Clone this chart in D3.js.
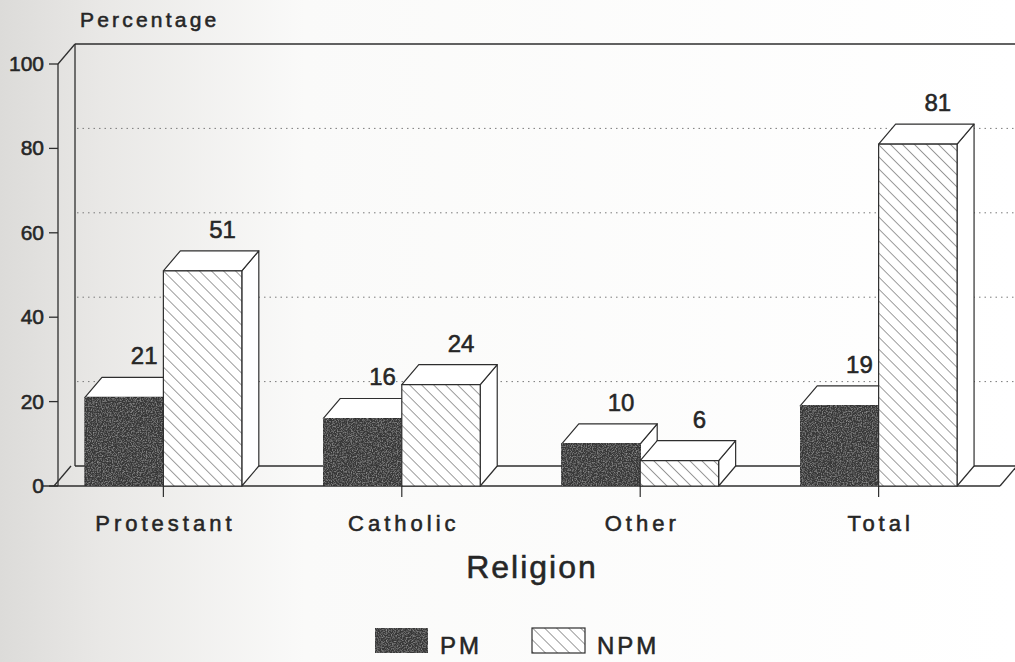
<!DOCTYPE html>
<html>
<head>
<meta charset="utf-8">
<script src="https://cdn.jsdelivr.net/npm/d3@7"></script>
<style>
  html, body { margin: 0; padding: 0; background: #fff; }
  svg { display: block; }
  text { font-family: "Liberation Sans", Arial, Helvetica, sans-serif; fill: #262626; stroke: #262626; stroke-width: 0.55px; }
</style>
</head>
<body>
<svg id="chart" width="1015" height="662"></svg>
<script>
// ---- data ----
const categories = ["Protestant", "Catholic", "Other", "Total"];
const seriesNames = ["PM", "NPM"];
const pmValues = [21, 16, 10, 19];
const npmValues = [51, 24, 6, 81];
const yTickValues = [0, 20, 40, 60, 80, 100];
const gridValues = [20, 40, 60, 80];
const yAxisTitle = "Percentage";
const xAxisTitle = "Religion";

// ---- layout ----
const W = 1015, H = 662;
const DX = 17, DY = -20;       // 3D depth offset
const floorRight = 1000;
const svg = d3.select("#chart");

const y = d3.scaleLinear().domain([0, 100]).range([486, 64]);
const x0 = d3.scaleBand().domain(categories).range([58, 984])
  .paddingInner(0.342).paddingOuter(0.113);
const x1 = d3.scaleBand().domain(seriesNames).range([0, x0.bandwidth()]);

const ink = "#2e2e2e";
const defs = svg.append("defs");

// background: scanned paper shading
const bg = defs.append("linearGradient").attr("id", "paper")
  .attr("x1", "0").attr("x2", "1").attr("y1", "0").attr("y2", "0");
bg.append("stop").attr("offset", "0").attr("stop-color", "#dcdbd9");
bg.append("stop").attr("offset", "0.1").attr("stop-color", "#e9e8e6");
bg.append("stop").attr("offset", "0.3").attr("stop-color", "#fafaf9");
bg.append("stop").attr("offset", "1").attr("stop-color", "#ffffff");
svg.append("rect").attr("width", W).attr("height", H).attr("fill", "url(#paper)");

// hatch pattern for NPM
const hatch = defs.append("pattern").attr("id", "hatch")
  .attr("patternUnits", "userSpaceOnUse").attr("width", 8.5).attr("height", 8.5)
  .attr("patternTransform", "rotate(-45)");
hatch.append("rect").attr("width", 8.5).attr("height", 8.5).attr("fill", "#fff");
hatch.append("line").attr("x1", 0).attr("y1", 0).attr("x2", 0).attr("y2", 8.5)
  .attr("stroke", "#3a3a3a").attr("stroke-width", 1);

// grain for PM
const grain = defs.append("filter").attr("id", "grain").attr("x", 0).attr("y", 0).attr("width", 1).attr("height", 1);
grain.append("feTurbulence").attr("type", "fractalNoise").attr("baseFrequency", 0.8).attr("numOctaves", 2).attr("result", "n");
grain.append("feColorMatrix").attr("in", "n").attr("type", "matrix")
  .attr("values", "0 0 0 0 0.36  0 0 0 0 0.36  0 0 0 0 0.36  0 0 0 -1.8 1.0").attr("result", "g");
grain.append("feComposite").attr("in", "g").attr("in2", "SourceGraphic").attr("operator", "in").attr("result", "gi");
grain.append("feMerge").call(m => { m.append("feMergeNode").attr("in", "SourceGraphic"); m.append("feMergeNode").attr("in", "gi"); });

const frame = svg.append("g").attr("fill", "none").attr("stroke", ink).attr("stroke-width", 1.3);

// back wall
const backLeft = 58 + DX;
frame.append("line").attr("x1", backLeft).attr("x2", W + 5).attr("y1", y(100) + DY).attr("y2", y(100) + DY);
frame.append("line").attr("x1", backLeft).attr("x2", backLeft).attr("y1", y(100) + DY).attr("y2", y(0) + DY);
frame.append("line").attr("x1", backLeft).attr("x2", floorRight + DX).attr("y1", y(0) + DY).attr("y2", y(0) + DY);
// gridlines on back wall (dotted)
svg.append("g").selectAll("line").data(gridValues).join("line")
  .attr("x1", backLeft + 2).attr("x2", W)
  .attr("y1", d => y(d) + DY).attr("y2", d => y(d) + DY)
  .attr("stroke", "#7a7a7a").attr("stroke-width", 1).attr("stroke-dasharray", "1.5,4");
// side wall & floor
frame.append("line").attr("x1", 58).attr("x2", 58).attr("y1", y(100)).attr("y2", y(0));
frame.append("line").attr("x1", 58).attr("x2", backLeft).attr("y1", y(100)).attr("y2", y(100) + DY);
frame.append("line").attr("x1", 58 - 4).attr("x2", backLeft - 4).attr("y1", y(0)).attr("y2", y(0) + DY);
frame.append("line").attr("x1", 43).attr("x2", floorRight).attr("y1", y(0)).attr("y2", y(0));
frame.append("line").attr("x1", floorRight).attr("x2", floorRight + DX).attr("y1", y(0)).attr("y2", y(0) + DY);

// bars
const rows = categories.map((c, i) => ({ cat: c, values: [
  { s: "PM", v: pmValues[i] }, { s: "NPM", v: npmValues[i] }] }));
const bw = x1.bandwidth();
const barG = svg.append("g");
rows.forEach(r => {
  r.values.forEach(d => {
    const xl = x0(r.cat) + x1(d.s), xr = xl + bw, yt = y(d.v), yb = y(0);
    const g = barG.append("g").attr("stroke", ink).attr("stroke-width", 1.2).attr("stroke-linejoin", "round");
    // side face
    g.append("path").attr("fill", "#fff")
      .attr("d", `M${xr},${yt}L${xr + DX},${yt + DY}L${xr + DX},${yb + DY}L${xr},${yb}Z`);
    // top face
    g.append("path").attr("fill", "#fff")
      .attr("d", `M${xl},${yt}L${xl + DX},${yt + DY}L${xr + DX},${yt + DY}L${xr},${yt}Z`);
    // front face
    g.append("rect").attr("x", xl).attr("y", yt).attr("width", bw).attr("height", yb - yt)
      .attr("fill", d.s === "PM" ? "#383838" : "url(#hatch)")
      .attr("filter", d.s === "PM" ? "url(#grain)" : null);
    // value label
    svg.append("text").attr("x", xl + bw / 2 + DX + 3).attr("y", yt + DY - 13)
      .attr("text-anchor", "middle").attr("font-size", 24).text(d.v);
  });
});

// y axis ticks & labels
const yAx = svg.append("g");
yAx.selectAll("line").data(yTickValues).join("line")
  .attr("x1", 49).attr("x2", 58).attr("y1", d => y(d)).attr("y2", d => y(d))
  .attr("stroke", ink).attr("stroke-width", 1.3);
yAx.selectAll("text").data(yTickValues).join("text")
  .attr("x", 44).attr("y", d => y(d) + 7).attr("text-anchor", "end")
  .attr("font-size", 21).text(d => d);

// x axis ticks & labels
const xAx = svg.append("g");
xAx.selectAll("line").data(categories).join("line")
  .attr("x1", d => x0(d) + x0.bandwidth() / 2).attr("x2", d => x0(d) + x0.bandwidth() / 2)
  .attr("y1", y(0)).attr("y2", y(0) + 11).attr("stroke", ink).attr("stroke-width", 1.2);
xAx.selectAll("text").data(categories).join("text")
  .attr("x", d => x0(d) + x0.bandwidth() / 2 + 2).attr("y", 531)
  .attr("text-anchor", "middle").attr("font-size", 22).attr("letter-spacing", "4px")
  .text(d => d);

// titles
svg.append("text").attr("x", 80).attr("y", 27).attr("font-size", 21)
  .attr("letter-spacing", "3.2px").text(yAxisTitle);
svg.append("text").attr("x", 532).attr("y", 578).attr("text-anchor", "middle")
  .attr("font-size", 32).attr("letter-spacing", "2px").text(xAxisTitle);

// legend
const legX = [375, 532];
const leg = svg.append("g");
seriesNames.forEach((s, i) => {
  leg.append("rect").attr("x", legX[i]).attr("y", 628).attr("width", 53).attr("height", 25)
    .attr("fill", s === "PM" ? "#383838" : "url(#hatch)")
    .attr("filter", s === "PM" ? "url(#grain)" : null)
    .attr("stroke", s === "PM" ? "none" : ink).attr("stroke-width", 1.2);
  leg.append("text").attr("x", legX[i] + 65).attr("y", 654).attr("font-size", 24)
    .attr("letter-spacing", "3px").text(s);
});
</script>
</body>
</html>
